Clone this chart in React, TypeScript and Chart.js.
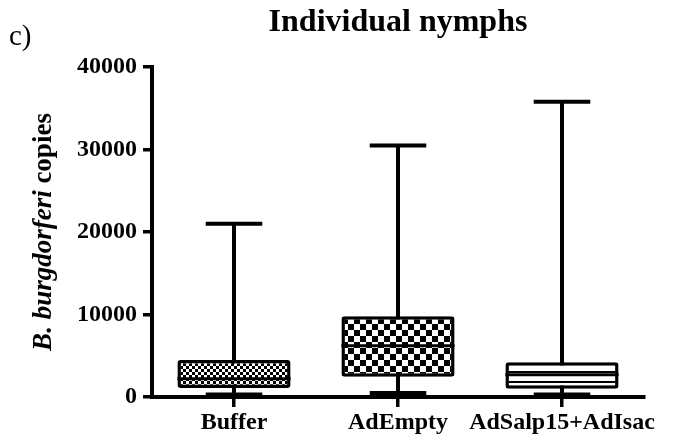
import React, { useEffect, useRef } from "react";
import { Chart, registerables } from "chart.js";

Chart.register(...registerables);

// Box-and-whisker summaries per treatment group
const groups = ["Buffer", "AdEmpty", "AdSalp15+AdIsac"];
const minValues = [300, 500, 300];
const q1Values = [1100, 2450, 1000];
const medianValues = [2200, 6200, 2700];
const q3Values = [4500, 9800, 4200];
const maxValues = [21000, 30500, 35800];
const yTicks = [0, 10000, 20000, 30000, 40000];

const SERIF = "'Liberation Serif', 'Times New Roman', serif";

function makeChecker(cell: number): CanvasPattern | string {
  const c = document.createElement("canvas");
  c.width = cell * 2;
  c.height = cell * 2;
  const g = c.getContext("2d");
  if (!g) return "#888";
  g.fillStyle = "#fff";
  g.fillRect(0, 0, c.width, c.height);
  g.fillStyle = "#000";
  g.fillRect(0, 0, cell, cell);
  g.fillRect(cell, cell, cell, cell);
  return g.createPattern(c, "repeat") || "#888";
}

function makeStripes(period: number, line: number): CanvasPattern | string {
  const c = document.createElement("canvas");
  c.width = 4;
  c.height = period;
  const g = c.getContext("2d");
  if (!g) return "#fff";
  g.fillStyle = "#fff";
  g.fillRect(0, 0, c.width, c.height);
  g.fillStyle = "#000";
  g.fillRect(0, 1, c.width, line);
  return g.createPattern(c, "repeat") || "#fff";
}

// Whiskers behind the boxes, medians on top
const whiskerPlugin = {
  id: "whiskers",
  beforeDatasetsDraw(chart: any) {
    const { ctx, scales } = chart;
    const y = scales.y;
    const meta = chart.getDatasetMeta(0);
    ctx.save();
    ctx.strokeStyle = "#000";
    ctx.lineWidth = 4;
    ctx.lineCap = "butt";
    meta.data.forEach((bar: any, i: number) => {
      const x = bar.x;
      const capHalf = bar.width / 4;
      const yMin = y.getPixelForValue(minValues[i]);
      const yMax = y.getPixelForValue(maxValues[i]);
      ctx.beginPath();
      ctx.moveTo(x, yMin);
      ctx.lineTo(x, yMax);
      ctx.moveTo(x - capHalf, yMax);
      ctx.lineTo(x + capHalf, yMax);
      ctx.moveTo(x - capHalf, yMin);
      ctx.lineTo(x + capHalf, yMin);
      ctx.stroke();
    });
    ctx.restore();
  },
  afterDatasetsDraw(chart: any) {
    const { ctx, scales } = chart;
    const y = scales.y;
    const meta = chart.getDatasetMeta(0);
    ctx.save();
    ctx.strokeStyle = "#000";
    ctx.lineWidth = 3;
    meta.data.forEach((bar: any, i: number) => {
      const ym = y.getPixelForValue(medianValues[i]);
      ctx.beginPath();
      ctx.moveTo(bar.x - bar.width / 2, ym);
      ctx.lineTo(bar.x + bar.width / 2, ym);
      ctx.stroke();
    });
    ctx.restore();
  },
};

// Panel letter, title and the mixed-style y-axis title
const labelsPlugin = {
  id: "panelLabels",
  afterDraw(chart: any) {
    const { ctx, chartArea } = chart;
    ctx.save();
    ctx.fillStyle = "#000";
    ctx.textBaseline = "middle";

    ctx.font = `29px ${SERIF}`;
    ctx.textAlign = "left";
    ctx.fillText("c)", 9, 37);

    ctx.font = `bold 32px ${SERIF}`;
    ctx.textAlign = "center";
    ctx.fillText("Individual nymphs", (chartArea.left + chartArea.right) / 2, 23);

    const parts = [
      { text: "B. burgdorferi", font: `italic bold 27px ${SERIF}` },
      { text: " copies", font: `bold 27px ${SERIF}` },
    ];
    const widths = parts.map((p) => {
      ctx.font = p.font;
      return ctx.measureText(p.text).width;
    });
    const total = widths.reduce((a, b) => a + b, 0);
    ctx.translate(44, (chartArea.top + chartArea.bottom) / 2);
    ctx.rotate(-Math.PI / 2);
    ctx.textAlign = "left";
    let x = -total / 2;
    parts.forEach((p, i) => {
      ctx.font = p.font;
      ctx.fillText(p.text, x, 0);
      x += widths[i];
    });
    ctx.restore();
  },
};

export default function App() {
  const canvasRef = useRef<HTMLCanvasElement | null>(null);

  useEffect(() => {
    document.body.style.margin = "0";
    const canvas = canvasRef.current;
    if (!canvas) return;

    const fills = [makeChecker(3), makeChecker(6), makeStripes(10, 2)];

    const chart = new Chart(canvas, {
      type: "bar",
      data: {
        labels: groups,
        datasets: [
          {
            data: groups.map((_, i) => [q1Values[i], q3Values[i]]) as any,
            backgroundColor: fills as any,
            borderColor: "#000",
            borderWidth: 3.5,
            borderSkipped: false,
            borderRadius: 3,
            barPercentage: 0.69,
            categoryPercentage: 1,
          },
        ],
      },
      options: {
        responsive: false,
        animation: false,
        events: [],
        layout: { padding: { top: 67, right: 32, left: 0, bottom: 0 } },
        plugins: {
          legend: { display: false },
          tooltip: { enabled: false },
          title: { display: false },
        },
        scales: {
          x: {
            offset: true,
            afterFit: (s: any) => {
              s.height = 43;
            },
            grid: {
              offset: false,
              drawOnChartArea: false,
              drawTicks: true,
              tickLength: 10,
              lineWidth: 3.5,
              color: "#000",
            },
            border: { display: true, width: 4, color: "#000" },
            ticks: {
              color: "#000",
              padding: 1,
              maxRotation: 0,
              minRotation: 0,
              autoSkip: false,
              font: { family: SERIF, size: 24, weight: "bold" },
            },
          },
          y: {
            min: 0,
            max: 40000,
            afterFit: (s: any) => {
              s.width = 152;
            },
            afterBuildTicks: (s: any) => {
              s.ticks = yTicks.map((v) => ({ value: v }));
            },
            grid: {
              drawOnChartArea: false,
              drawTicks: true,
              tickLength: 9,
              lineWidth: 3.5,
              color: "#000",
            },
            border: { display: true, width: 4, color: "#000" },
            ticks: {
              color: "#000",
              padding: 6,
              font: { family: SERIF, size: 24, weight: "bold" },
              callback: (v: any) => String(v),
            },
          },
        },
      },
      plugins: [whiskerPlugin, labelsPlugin],
    });

    return () => chart.destroy();
  }, []);

  return (
    <div style={{ width: 676, height: 440 }}>
      <canvas ref={canvasRef} width={676} height={440} />
    </div>
  );
}
